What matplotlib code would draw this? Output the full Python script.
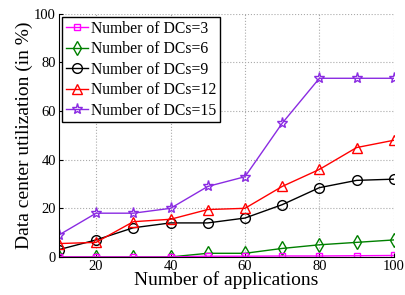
import numpy as np
import matplotlib
matplotlib.use('Agg')
import matplotlib.pyplot as plt

plt.rcParams['font.family'] = ['Liberation Serif', 'DejaVu Serif']

apps = [10, 20, 30, 40, 50, 60, 70, 80, 90, 100]
dc3 = [0, 0, 0, 0, 0.3, 0.3, 0.4, 0.4, 0.5, 0.6]
dc6 = [0, 0, 0, 0, 1.5, 1.5, 3.5, 5, 6, 7]
dc9 = [3, 7, 12, 14, 14, 16, 21.5, 28.5, 31.5, 32]
dc12 = [5.5, 6, 14.5, 15.5, 19.5, 20, 29, 36, 45, 48]
dc15 = [9, 18, 18, 20, 29, 33, 55, 73.5, 73.5, 73.5]

fig = plt.figure(figsize=(4.06, 2.95), dpi=100)
ax = fig.add_axes([0.145, 0.129, 0.825, 0.824])

ax.plot(apps, dc6, color='#008000', marker='d', mfc='none', ms=7, lw=1, label='Number of DCs=6')
ax.plot(apps, dc9, color='black', marker='o', mfc='none', ms=7, lw=1, label='Number of DCs=9')
ax.plot(apps, dc12, color='red', marker='^', mfc='none', ms=7, lw=1, label='Number of DCs=12')
ax.plot(apps, dc15, color='#8a2be2', marker='*', mfc='none', ms=8, lw=1, label='Number of DCs=15')
ax.plot(apps, dc3, color='#ff00ff', marker='s', mfc='none', ms=5, lw=1, label='Number of DCs=3')

ax.set_xlim(10, 100)
ax.set_ylim(0, 100)
ax.set_xticks([20, 40, 60, 80, 100])
ax.set_yticks([0, 20, 40, 60, 80, 100])
ax.tick_params(direction='in', labelsize=10.5, length=3, pad=2)
ax.grid(True, linestyle=':', color='#aaaaaa', linewidth=0.8)
ax.spines['top'].set_visible(False)
ax.spines['right'].set_visible(False)

ax.set_xlabel('Number of applications', fontsize=14, labelpad=-1)
ax.set_ylabel('Data center utilization (in %)', fontsize=14, labelpad=1)

h, l = ax.get_legend_handles_labels()
order = [4, 0, 1, 2, 3]
leg = ax.legend([h[i] for i in order], [l[i] for i in order], loc='upper left',
                fontsize=11.3, handlelength=1.4, handletextpad=0.2,
                borderaxespad=0.2, borderpad=0.25, labelspacing=0.28, fancybox=False,
                framealpha=1, edgecolor='black')
leg.get_frame().set_linewidth(1)

fig.savefig('out.png', dpi=100)
